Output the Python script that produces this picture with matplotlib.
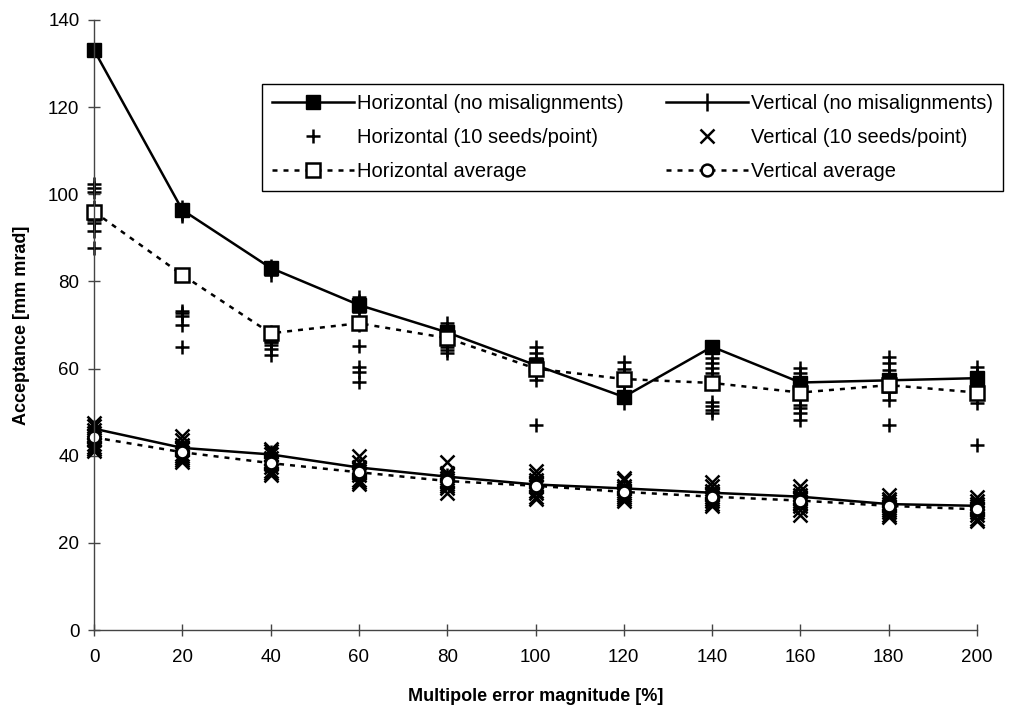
import numpy as np
import matplotlib
matplotlib.use('Agg')
import matplotlib.pyplot as plt

plt.rcParams['font.family'] = ['Liberation Sans', 'DejaVu Sans']

error_pct = [0, 20, 40, 60, 80, 100, 120, 140, 160, 180, 200]

# no misalignments
horiz_nomis = [133.1, 96.4, 83.1, 74.6, 68.3, 60.8, 53.5, 65.0, 56.8, 57.3, 57.8]
vert_nomis = [46.2, 41.8, 40.3, 37.3, 35.2, 33.4, 32.5, 31.5, 30.6, 28.9, 28.5]

# averages over 10 seeds
horiz_avg = [96.0, 81.5, 68.1, 70.4, 67.0, 60.0, 57.6, 56.7, 54.5, 56.2, 54.5]
vert_avg = [44.2, 40.8, 38.3, 36.2, 34.2, 33.1, 31.7, 30.6, 29.7, 28.5, 27.7]

# 10 seeds per point
horiz_seeds = [
    [102.4, 101.4, 100.5, 97.0, 96.0, 95.0, 94.0, 93.5, 91.6, 87.7],
    [97.0, 96.5, 96.0, 95.5, 95.0, 73.3, 72.7, 72.0, 70.0, 65.0],
    [83.5, 82.5, 81.5, 68.5, 67.0, 66.0, 65.4, 64.6, 63.1, 66.0],
    [76.5, 75.5, 74.5, 73.0, 71.0, 70.0, 65.2, 60.4, 59.3, 57.0],
    [70.4, 69.0, 68.5, 68.0, 67.5, 67.0, 66.0, 65.0, 64.3, 63.5],
    [65.0, 63.6, 62.4, 61.0, 60.5, 60.0, 59.5, 59.0, 57.4, 47.0],
    [61.6, 60.0, 58.5, 58.0, 57.5, 57.0, 56.0, 54.0, 53.5, 52.1],
    [65.0, 62.4, 61.2, 60.1, 58.9, 56.5, 52.4, 51.3, 50.5, 49.8],
    [60.1, 58.9, 57.5, 56.5, 55.5, 54.0, 51.6, 50.9, 49.7, 48.2],
    [62.7, 61.2, 59.7, 58.1, 57.5, 56.5, 56.0, 54.7, 52.8, 47.0],
    [60.4, 59.0, 58.5, 57.8, 57.0, 56.5, 55.5, 54.5, 52.2, 42.5],
]
vert_seeds = [
    [47.5, 46.8, 46.0, 45.2, 44.5, 43.5, 42.8, 42.0, 41.5, 41.0],
    [44.5, 43.5, 42.5, 42.0, 41.5, 40.5, 40.0, 39.5, 39.0, 38.5],
    [41.5, 41.0, 40.5, 39.5, 38.5, 38.0, 37.5, 36.5, 36.0, 35.5],
    [40.0, 38.5, 37.5, 37.0, 36.5, 36.0, 35.5, 34.5, 34.0, 33.5],
    [38.5, 36.0, 35.5, 35.0, 34.5, 34.0, 33.5, 33.0, 32.5, 31.5],
    [36.5, 35.5, 34.5, 34.0, 33.5, 33.0, 32.0, 31.5, 30.5, 30.0],
    [35.0, 34.5, 33.0, 32.5, 32.0, 31.5, 31.0, 30.5, 30.0, 29.5],
    [34.0, 33.0, 32.0, 31.5, 31.0, 30.5, 30.0, 29.5, 29.0, 28.5],
    [33.0, 32.0, 31.0, 30.5, 30.0, 29.5, 29.0, 28.5, 27.5, 26.5],
    [31.0, 30.0, 29.5, 29.0, 28.5, 28.0, 27.5, 27.0, 26.5, 26.0],
    [30.5, 29.5, 29.0, 28.5, 28.0, 27.5, 27.0, 26.5, 25.5, 25.0],
]

fig = plt.figure(figsize=(10.31, 7.11), dpi=100)
ax = fig.add_axes([0.0912, 0.1139, 0.8564, 0.858])

hx = np.repeat(error_pct, 10)
hs = np.concatenate(horiz_seeds)
vs = np.concatenate(vert_seeds)

l_hs, = ax.plot(hx, hs, linestyle='none', marker='+', color='k',
                markersize=10.5, markeredgewidth=1.8, clip_on=False)
l_vs, = ax.plot(hx, vs, linestyle='none', marker='x', color='k',
                markersize=9.5, markeredgewidth=1.8, clip_on=False)

l_hn, = ax.plot(error_pct, horiz_nomis, color='k', lw=1.8, marker='s',
                markersize=10.5, markerfacecolor='k', clip_on=False)
l_vn, = ax.plot(error_pct, vert_nomis, color='k', lw=1.8, marker='|',
                markersize=13, markeredgewidth=1.8, clip_on=False)

dash = (0, (2.0, 2.4))
l_ha, = ax.plot(error_pct, horiz_avg, color='k', lw=1.8, linestyle=dash,
                marker='s', markersize=9.5, markerfacecolor='white',
                markeredgewidth=1.8, clip_on=False)
l_va, = ax.plot(error_pct, vert_avg, color='k', lw=1.8, linestyle=dash,
                marker='o', markersize=8.5, markerfacecolor='white',
                markeredgewidth=1.8, clip_on=False)

ax.set_xlim(0, 200)
ax.set_ylim(0, 140)
ax.set_xticks(error_pct)
ax.set_yticks(np.arange(0, 141, 20))
ax.spines['top'].set_visible(False)
ax.spines['right'].set_visible(False)
for s in ['left', 'bottom']:
    ax.spines[s].set_color('#444444')
    ax.spines[s].set_linewidth(1.0)
ax.tick_params(direction='inout', length=9, width=1.0, color='#444444',
               labelsize=13.5, pad=6)
ax.tick_params(axis='x', pad=9)

ax.set_xlabel('Multipole error magnitude [%]', fontsize=13, fontweight='bold', labelpad=16)
ax.set_ylabel('Acceptance [mm mrad]', fontsize=13, fontweight='bold', labelpad=13)

leg = ax.legend([l_hn, l_hs, l_ha, l_vn, l_vs, l_va],
                ['Horizontal (no misalignments)', 'Horizontal (10 seeds/point)',
                 'Horizontal average', 'Vertical (no misalignments)',
                 'Vertical (10 seeds/point)', 'Vertical average'],
                ncol=2, loc='upper left', bbox_to_anchor=(0.19, 0.895),
                borderaxespad=0, fontsize=14.5, frameon=True, fancybox=False,
                framealpha=1, edgecolor='k', handlelength=4.1,
                handletextpad=0.12, columnspacing=2.1, labelspacing=0.75,
                borderpad=0.5)
leg.get_frame().set_linewidth(1.0)

fig.savefig('out.png', dpi=100)
